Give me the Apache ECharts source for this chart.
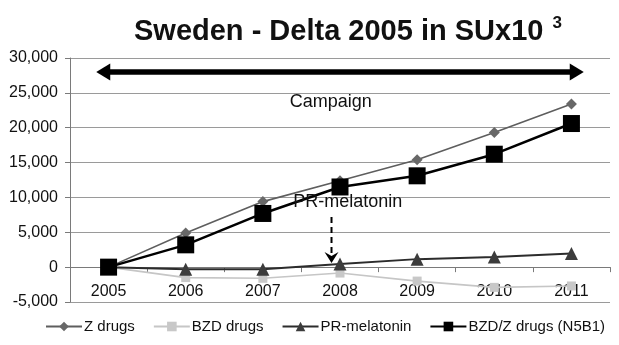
<!DOCTYPE html>
<html>
<head>
<meta charset="utf-8">
<script src="https://cdn.jsdelivr.net/npm/echarts@6/dist/echarts.min.js"></script>
<style>
  html, body { margin: 0; padding: 0; background: #fff; }
  #chart { width: 619px; height: 345px; }
</style>
</head>
<body>
<div id="chart"></div>
<script>
// Change in sales versus 2005, standard units x 1000
const years = ['2005', '2006', '2007', '2008', '2009', '2010', '2011'];
const zDrugs = [0, 4900, 9400, 12400, 15400, 19300, 23400];
const bzdDrugs = [0, -1500, -1600, -850, -2000, -2900, -2700];
const prMelatonin = [0, -300, -300, 450, 1150, 1450, 1950];
const bzdZN5B1 = [0, 3200, 7700, 11500, 13100, 16200, 20600];
const yTicks = { min: -5000, max: 30000, step: 5000 };

const FONT = '"Liberation Sans", Arial, Helvetica, sans-serif';

const chart = echarts.init(document.getElementById('chart'));

const option = {
  animation: false,
  backgroundColor: '#fff',
  textStyle: { fontFamily: FONT },
  title: {
    left: 129,
    top: 9,
    text: '{a|Sweden - Delta 2005 in SUx10}{s|3}',
    textStyle: {
      rich: {
        a: { fontFamily: FONT, fontSize: 29, fontWeight: 'bold', color: '#111', lineHeight: 36 },
        s: { fontFamily: FONT, fontSize: 17, fontWeight: 'bold', color: '#111', padding: [0, 0, 18, 9] }
      }
    }
  },
  grid: { left: 70, right: 9, top: 58, bottom: 43, containLabel: false },
  legend: {
    bottom: 6,
    left: 40,
    itemWidth: 36,
    itemHeight: 12,
    itemGap: 18,
    textStyle: { fontFamily: FONT, fontSize: 15, color: '#111', padding: [0, 0, 0, -3] },
    data: ['Z drugs', 'BZD drugs', 'PR-melatonin', 'BZD/Z drugs (N5B1)']
  },
  xAxis: {
    type: 'category',
    data: years,
    boundaryGap: true,
    axisLine: { onZero: true, lineStyle: { color: '#7a7a7a', width: 1 } },
    axisTick: { show: true, length: 5, lineStyle: { color: '#7a7a7a' } },
    axisLabel: { fontFamily: FONT, fontSize: 16, color: '#111', margin: -18 }
  },
  yAxis: {
    type: 'value',
    min: yTicks.min,
    max: yTicks.max,
    interval: yTicks.step,
    axisLine: { show: true, lineStyle: { color: '#7a7a7a' } },
    axisTick: { show: true, length: 5, lineStyle: { color: '#7a7a7a' } },
    axisLabel: {
      fontFamily: FONT, fontSize: 16, color: '#111', margin: 12,
      formatter: v => v.toLocaleString('en-US')
    },
    splitLine: { lineStyle: { color: '#9a9a9a', width: 1 } }
  },
  series: [
    {
      name: 'Z drugs', type: 'line', data: zDrugs,
      symbol: 'diamond', symbolSize: 11,
      lineStyle: { color: '#5e5e5e', width: 1.6 },
      itemStyle: { color: '#686868' }, z: 2
    },
    {
      name: 'BZD drugs', type: 'line', data: bzdDrugs,
      symbol: 'rect', symbolSize: 9,
      lineStyle: { color: '#c6c6c6', width: 1.6 },
      itemStyle: { color: '#c8c8c8' }, z: 1
    },
    {
      name: 'PR-melatonin', type: 'line', data: prMelatonin,
      symbol: 'triangle', symbolSize: 13,
      lineStyle: { color: '#2c2c2c', width: 2 },
      itemStyle: { color: '#3c3c3c' }, z: 3
    },
    {
      name: 'BZD/Z drugs (N5B1)', type: 'line', data: bzdZN5B1,
      symbol: 'rect', symbolSize: 17,
      lineStyle: { color: '#000', width: 2.5 },
      itemStyle: { color: '#000' }, z: 4
    }
  ]
};

chart.setOption(option);

// Pixel position of a fractional category index and a value, via the axes
function px(idx, val) {
  const a = chart.convertToPixel({ gridIndex: 0 }, [0, val]);
  const b = chart.convertToPixel({ gridIndex: 0 }, [1, val]);
  const step = b[0] - a[0];
  return [a[0] + step * idx, a[1]];
}

// Annotations: campaign span and PR-melatonin launch
const a0 = px(-0.16, 28000), a1 = px(6.16, 28000);
const camp = px(2.88, 23700);
const prText = px(3.1, 9300);
const d0 = px(2.89, 7200), d1 = px(2.89, 600);

chart.setOption({
  graphic: [
    {
      type: 'line', z: 10,
      shape: { x1: a0[0] + 8, y1: a0[1], x2: a1[0] - 8, y2: a1[1] },
      style: { stroke: '#000', lineWidth: 5.5 }
    },
    {
      type: 'polygon', z: 10,
      shape: { points: [[a0[0], a0[1]], [a0[0] + 14, a0[1] - 8.5], [a0[0] + 14, a0[1] + 8.5]] },
      style: { fill: '#000' }
    },
    {
      type: 'polygon', z: 10,
      shape: { points: [[a1[0], a1[1]], [a1[0] - 14, a1[1] - 8.5], [a1[0] - 14, a1[1] + 8.5]] },
      style: { fill: '#000' }
    },
    {
      type: 'text', z: 10, x: camp[0], y: camp[1],
      style: { text: 'Campaign', font: '18px ' + FONT, fill: '#111', align: 'center', verticalAlign: 'middle' }
    },
    {
      type: 'text', z: 10, x: prText[0], y: prText[1],
      style: { text: 'PR-melatonin', font: '18px ' + FONT, fill: '#111', align: 'center', verticalAlign: 'middle' }
    },
    {
      type: 'line', z: 10,
      shape: { x1: d0[0], y1: d0[1], x2: d1[0], y2: d1[1] - 8 },
      style: { stroke: '#000', lineWidth: 2, lineDash: [6, 4] }
    },
    {
      type: 'polygon', z: 10,
      shape: { points: [[d1[0], d1[1]], [d1[0] - 7, d1[1] - 11], [d1[0], d1[1] - 7], [d1[0] + 7, d1[1] - 11]] },
      style: { fill: '#000' }
    }
  ]
});
</script>
</body>
</html>
